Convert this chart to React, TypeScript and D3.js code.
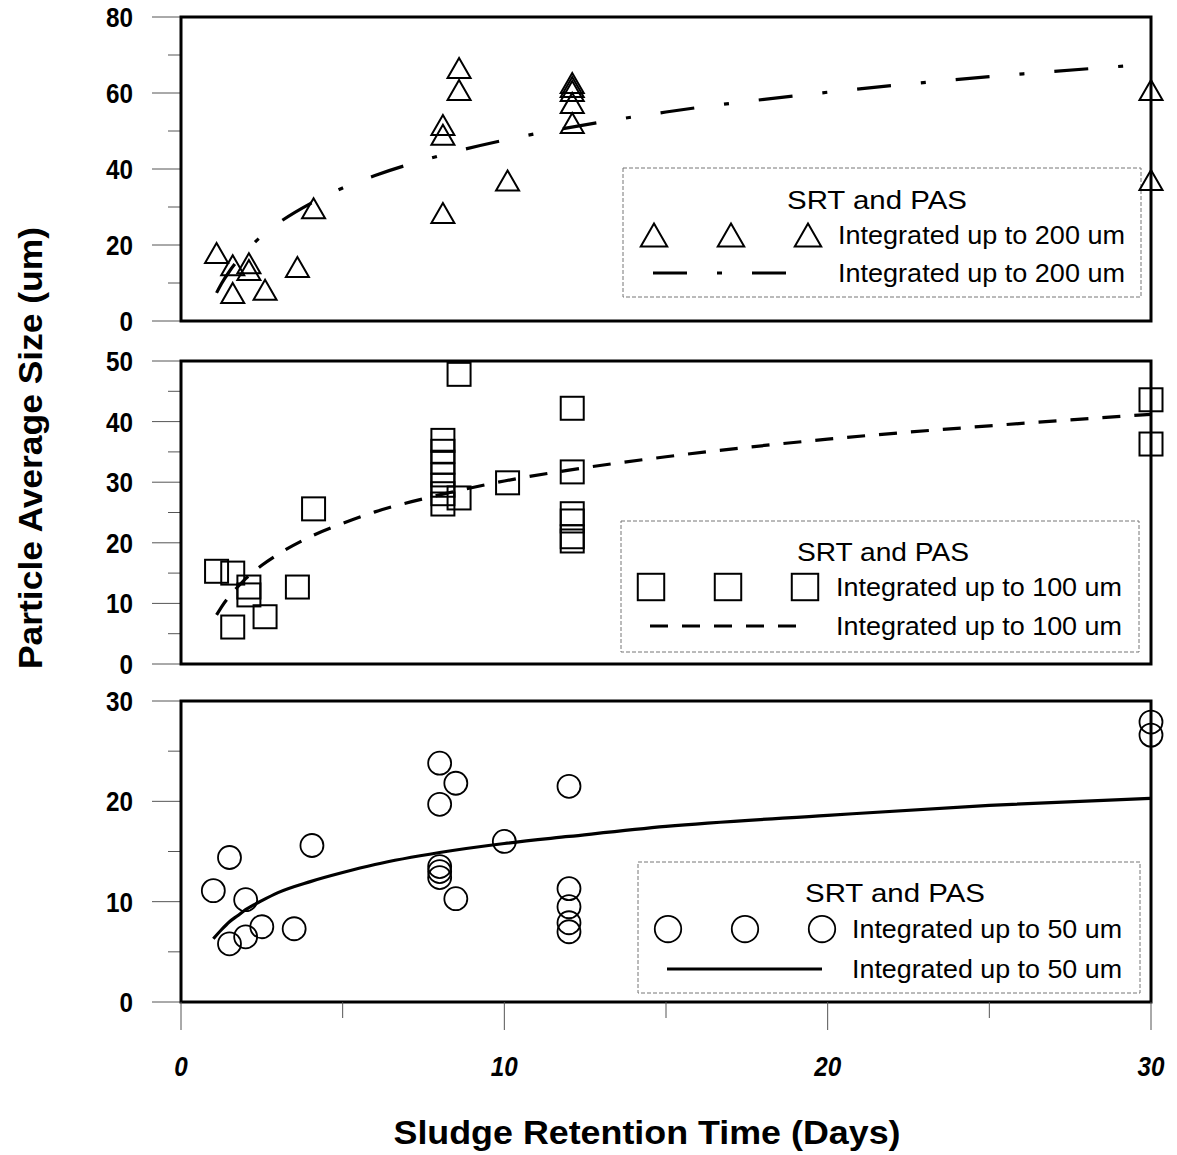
import React from "react";
import * as d3 from "d3";

// ---------- DATA ----------
// Panel 1: integrated up to 200 um (triangles)
const tri200X = [1.1, 1.6, 2.1, 2.1, 1.6, 2.6, 3.6, 4.1, 8.1, 8.1, 8.1, 8.6, 8.6, 10.1, 12.1, 12.1, 12.1, 12.1, 12.1, 30, 30];
const tri200Y = [17.9, 14.7, 15.2, 13.4, 7.4, 8.2, 14.2, 29.7, 28.4, 51.6, 49.0, 66.6, 60.8, 37.0, 62.6, 61.6, 60.5, 57.4, 52.1, 60.8, 37.1];
const fit200X = [1.1, 1.25, 1.5, 1.75, 2, 2.5, 3, 4, 5, 6, 8, 10, 12, 15, 20, 25, 30];
const fit200Y = [7.4, 9.8, 13.1, 15.9, 18.3, 22.4, 25.7, 30.9, 35.0, 38.3, 43.5, 47.6, 50.9, 55.0, 60.2, 64.3, 67.6];

// Panel 2: integrated up to 100 um (squares)
const sq100X = [1.1, 1.6, 2.1, 2.1, 1.6, 2.6, 3.6, 4.1, 8.1, 8.1, 8.1, 8.1, 8.1, 8.1, 8.1, 8.6, 8.6, 10.1, 12.1, 12.1, 12.1, 12.1, 12.1, 12.1, 30, 30];
const sq100Y = [15.3, 15.0, 12.7, 11.4, 6.1, 7.8, 12.7, 25.6, 36.9, 35.1, 33.3, 31.2, 29.5, 28.1, 26.4, 47.8, 27.4, 29.9, 42.2, 31.7, 24.8, 23.6, 21.0, 20.3, 43.6, 36.3];
const fit100X = [1.1, 1.25, 1.5, 1.75, 2, 2.5, 3, 4, 5, 6, 8, 10, 12, 15, 20, 25, 30];
const fit100Y = [8.1, 9.4, 11.2, 12.7, 14.1, 16.3, 18.1, 21.0, 23.2, 25.1, 27.9, 30.2, 32.0, 34.2, 37.1, 39.3, 41.2];

// Panel 3: integrated up to 50 um (circles)
const circ50X = [1.5, 1.0, 2.0, 1.5, 2.0, 2.5, 3.5, 4.05, 8.0, 8.5, 8.0, 8.0, 8.0, 8.0, 8.5, 10.0, 12.0, 12.0, 12.0, 12.0, 12.0, 30, 30];
const circ50Y = [14.4, 11.1, 10.2, 5.8, 6.5, 7.5, 7.3, 15.6, 23.8, 21.8, 19.7, 13.5, 13.0, 12.4, 10.3, 16.0, 21.5, 11.3, 9.5, 7.9, 7.0, 27.9, 26.6];
const fit50X = [1.0, 1.25, 1.5, 1.75, 2, 2.5, 3, 4, 5, 6, 8, 10, 12, 15, 20, 25, 30];
const fit50Y = [6.3, 7.2, 8.0, 8.6, 9.2, 10.1, 10.9, 12.0, 12.9, 13.7, 14.9, 15.8, 16.5, 17.5, 18.6, 19.6, 20.3];

const xTickValues = [0, 5, 10, 15, 20, 25, 30];
const xTickLabels = [0, 10, 20, 30];
const legendTitle = "SRT and PAS";
const legendLabels = ["Integrated up to 200 um", "Integrated up to 100 um", "Integrated up to 50 um"];
const yTitle = "Particle Average Size (um)";
const xTitle = "Sludge Retention Time (Days)";

// ---------- LAYOUT ----------
const FONT = "'Liberation Sans', Arial, Helvetica, sans-serif";
const X0 = 181;
const X1 = 1151;
const x = d3.scaleLinear().domain([0, 30]).range([X0, X1]);

const panels = [
  {
    top: 17, bottom: 321, max: 80, labelStep: 20, tickStep: 10,
    xs: tri200X, ys: tri200Y, fx: fit200X, fy: fit200Y, marker: "tri",
    dash: "34,30,5,30",
    label: legendLabels[0],
    lg: { box: [623, 168, 1141, 297], titleX: 787, titleW: 180, titleY: 200, mx: [654, 731, 808], my: 235, lx: [653, 790], ly: 273, tx: 838, tw: 287 },
  },
  {
    top: 361, bottom: 664, max: 50, labelStep: 10, tickStep: 5,
    xs: sq100X, ys: sq100Y, fx: fit100X, fy: fit100Y, marker: "sq",
    dash: "18,14",
    label: legendLabels[1],
    lg: { box: [621, 521, 1139, 652], titleX: 797, titleW: 172, titleY: 552, mx: [651, 728, 805], my: 587, lx: [650, 797], ly: 626, tx: 836, tw: 286 },
  },
  {
    top: 701, bottom: 1002, max: 30, labelStep: 10, tickStep: 5,
    xs: circ50X, ys: circ50Y, fx: fit50X, fy: fit50Y, marker: "circ",
    dash: null,
    label: legendLabels[2],
    lg: { box: [638, 862, 1140, 993], titleX: 805, titleW: 180, titleY: 893, mx: [668, 745, 822], my: 929, lx: [667, 822], ly: 969, tx: 852, tw: 270 },
  },
];

function Marker({ type, cx, cy, s = 1 }: { type: string; cx: number; cy: number; s?: number }) {
  if (type === "tri") {
    const w = 11.5 * s, h = 10 * s;
    return (
      <path d={`M${cx},${cy - h} L${cx + w},${cy + h} L${cx - w},${cy + h} Z`} fill="none" stroke="#000" strokeWidth={2} strokeLinejoin="miter" />
    );
  }
  if (type === "sq") {
    const h = 11.5 * s;
    return <rect x={cx - h} y={cy - h} width={2 * h} height={2 * h} fill="none" stroke="#000" strokeWidth={2} />;
  }
  return <circle cx={cx} cy={cy} r={11.5 * s} fill="none" stroke="#000" strokeWidth={1.8} />;
}

function NumLabel({ x: tx, y: ty, v, anchor, italic }: { x: number; y: number; v: number; anchor: string; italic?: boolean }) {
  const s = String(v);
  return (
    <text
      x={tx}
      y={ty}
      textAnchor={anchor}
      fontFamily={FONT}
      fontWeight="bold"
      fontStyle={italic ? "italic" : "normal"}
      fontSize={28}
      textLength={13.5 * s.length}
      lengthAdjust="spacingAndGlyphs"
      fill="#000"
    >
      {s}
    </text>
  );
}

function Panel({ p }: { p: (typeof panels)[number] }) {
  const y = d3.scaleLinear().domain([0, p.max]).range([p.bottom, p.top]);
  const ticks = d3.range(0, p.max + 0.001, p.tickStep);
  const labels = d3.range(0, p.max + 0.001, p.labelStep);
  const line = d3
    .line<number>()
    .x((d) => x(p.fx[d]))
    .y((d) => y(p.fy[d]))
    .curve(d3.curveMonotoneX);
  const idx = p.fx.map((_, i) => i);
  const lg = p.lg;
  return (
    <g>
      {ticks.map((t) => {
        const major = labels.some((l) => Math.abs(l - t) < 1e-6);
        return (
          <line key={"t" + t} x1={major ? 152 : 168} x2={X0} y1={y(t)} y2={y(t)} stroke="#555" strokeWidth={1} />
        );
      })}
      {labels.map((l) => (
        <NumLabel key={"l" + l} x={133} y={y(l) + 10} v={l} anchor="end" />
      ))}
      <path d={line(idx) || ""} fill="none" stroke="#000" strokeWidth={3.2} strokeDasharray={p.dash || undefined} />
      <rect x={lg.box[0]} y={lg.box[1]} width={lg.box[2] - lg.box[0]} height={lg.box[3] - lg.box[1]} fill="#fff" stroke="#777" strokeWidth={1} strokeDasharray="4,2" />
      <text x={lg.titleX} y={lg.titleY + 9} fontFamily={FONT} fontSize={26} textLength={lg.titleW} lengthAdjust="spacingAndGlyphs" fill="#000">
        {legendTitle}
      </text>
      {lg.mx.map((mx, i) => (
        <Marker key={"lm" + i} type={p.marker} cx={mx} cy={lg.my} s={1.15} />
      ))}
      <text x={lg.tx} y={lg.my + 9} fontFamily={FONT} fontSize={26} textLength={lg.tw} lengthAdjust="spacingAndGlyphs" fill="#000">
        {p.label}
      </text>
      <line x1={lg.lx[0]} x2={lg.lx[1]} y1={lg.ly} y2={lg.ly} stroke="#000" strokeWidth={3.2} strokeDasharray={p.dash || undefined} />
      <text x={lg.tx} y={lg.ly + 9} fontFamily={FONT} fontSize={26} textLength={lg.tw} lengthAdjust="spacingAndGlyphs" fill="#000">
        {p.label}
      </text>
      <rect x={X0} y={p.top} width={X1 - X0} height={p.bottom - p.top} fill="none" stroke="#000" strokeWidth={3} />
      {p.xs.map((xv, i) => (
        <Marker key={"m" + i} type={p.marker} cx={x(xv)} cy={y(p.ys[i])} />
      ))}
    </g>
  );
}

export default function App() {
  const bottom = panels[2].bottom;
  return (
    <svg width={1177} height={1155} style={{ position: "absolute", left: 0, top: 0, background: "#fff" }}>
      <rect x={0} y={0} width={1177} height={1155} fill="#fff" />
      {panels.map((p, i) => (
        <Panel key={i} p={p} />
      ))}
      {xTickValues.map((t) => {
        const major = xTickLabels.includes(t);
        return <line key={"xt" + t} x1={x(t)} x2={x(t)} y1={bottom} y2={bottom + (major ? 28 : 16)} stroke="#555" strokeWidth={1} />;
      })}
      {xTickLabels.map((t) => (
        <NumLabel key={"xl" + t} x={x(t)} y={1076} v={t} anchor="middle" italic />
      ))}
      <text
        transform={`translate(42,448) rotate(-90)`}
        textAnchor="middle"
        fontFamily={FONT}
        fontWeight="bold"
        fontSize={34}
        textLength={442}
        lengthAdjust="spacingAndGlyphs"
        fill="#000"
      >
        {yTitle}
      </text>
      <text x={647} y={1144} textAnchor="middle" fontFamily={FONT} fontWeight="bold" fontSize={33} textLength={507} lengthAdjust="spacingAndGlyphs" fill="#000">
        {xTitle}
      </text>
    </svg>
  );
}
